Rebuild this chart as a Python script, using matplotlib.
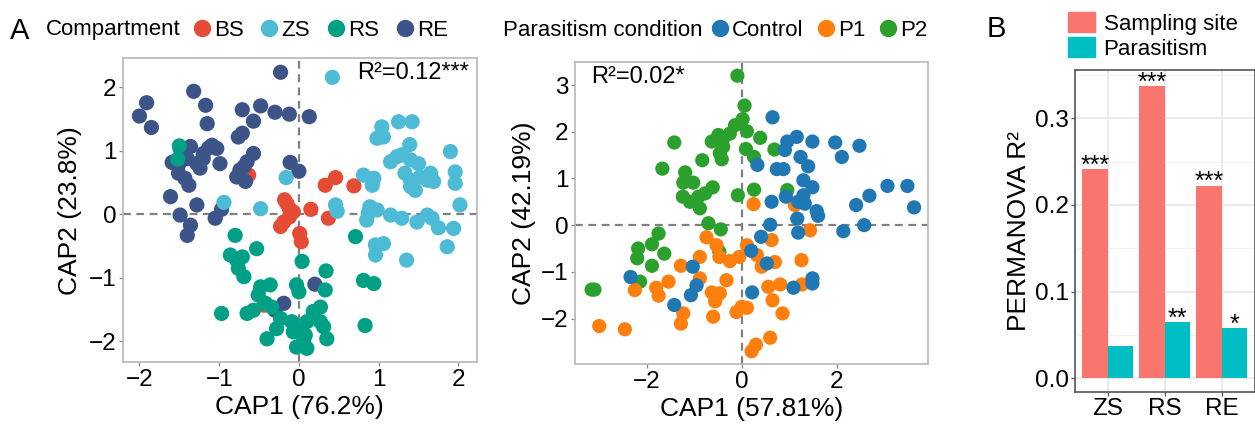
import matplotlib
matplotlib.use("Agg")
import matplotlib.pyplot as plt
from matplotlib.lines import Line2D
import numpy as np

plt.rcParams["font.family"] = ["Liberation Sans", "DejaVu Sans"]

W, H = 1255, 428

# ---- panel A left: CAP by compartment ----
comp_names = ["BS", "ZS", "RS", "RE"]
comp_colors = ["#E64B35", "#4DBBD5", "#00A087", "#3C5488"]

bs_x = [-0.63, 0.33, 0.46, 0.69, -0.18, -0.15, -0.12, -0.07, -0.12, -0.19, -0.23, 0.15, 0.37, 0.01, 0.03, -0.44]
bs_y = [0.62, 0.46, 0.58, 0.45, 0.23, 0.17, 0.09, 0.04, -0.04, -0.12, -0.19, 0.08, -0.06, -0.30, -0.43, -1.43]

zs_x = [0.42, 1.04, 1.06, 1.25, 1.42, 0.98, 1.39, 1.90, 1.15, 1.23, 1.29, 1.40, 1.50, 1.65, 1.33, 1.40,
        1.52, 1.61, 1.69, 1.96, 1.96, 0.81, 0.94, 0.92, 1.40, 1.46, -0.16, -0.94, -0.48, 0.46, 0.48, 0.89,
        0.87, 0.98, 1.15, 1.29, 1.48, 1.61, 1.67, 1.75, 1.94, 2.02, 0.96, 1.06, 0.96, 1.35, 1.86, 0.85]
zs_y = [2.16, 1.38, 1.22, 1.46, 1.46, 1.20, 1.10, 0.99, 0.83, 0.91, 0.94, 0.86, 0.80, 0.65, 0.65, 0.54,
        0.59, 0.54, 0.52, 0.67, 0.49, 0.62, 0.57, 0.46, 0.44, 0.38, 0.58, 0.19, 0.09, 0.15, 0.05, 0.12,
        0.02, 0.07, -0.01, -0.06, -0.12, -0.01, -0.06, -0.21, -0.22, 0.15, -0.48, -0.46, -0.64, -0.72, -0.51, -0.09]

rs_x = [-1.50, -1.52, -0.80, -0.53, -0.86, -0.78, -0.71, -0.76, -0.69, 0.71, 0.04, 0.34, -0.03, 0.00,
        0.33, 0.81, 0.94, -0.48, -0.36, -0.51, -0.42, -0.57, -0.65, -0.97, -0.23, -0.28, -0.40, -0.09,
        -0.07, 0.00, 0.10, 0.18, 0.27, 0.27, 0.31, 0.35, 0.08, 0.06, -0.03, 0.10, 0.83, -0.34]
rs_y = [1.08, 0.87, -0.33, -0.54, -0.64, -0.72, -0.67, -0.85, -0.98, -0.35, -0.74, -0.89, -1.11, -1.22,
        -1.19, -1.04, -1.09, -1.14, -1.11, -1.27, -1.40, -1.51, -1.56, -1.56, -1.64, -1.80, -1.96, -1.69,
        -1.85, -1.82, -1.69, -1.53, -1.46, -1.69, -1.77, -1.96, -1.90, -1.98, -2.09, -2.11, -1.75, -1.46]

re_x = [-0.23, -1.32, -1.91, -2.00, -1.85, -1.17, -1.15, -0.71, -0.48, -0.57, -0.30, -0.12, 0.13, -0.76,
        -0.71, -1.36, -1.49, -1.59, -1.51, -1.40, -1.28, -1.20, -1.13, -1.20, -1.03, -1.09, -0.99, -1.24,
        -1.51, -1.43, -1.38, -1.61, -0.65, -0.57, -0.69, -0.78, -0.67, -0.74, -0.11, 0.00, -1.28, -1.49,
        -1.36, -1.40, -1.05, -0.97, -0.19, -0.30, 0.20]
re_y = [2.24, 1.94, 1.76, 1.55, 1.37, 1.72, 1.43, 1.65, 1.71, 1.47, 1.61, 1.58, 1.54, 1.22,
        1.28, 1.07, 1.04, 0.82, 0.78, 0.88, 0.80, 0.88, 1.05, 0.96, 1.04, 1.09, 0.80, 0.73,
        0.65, 0.57, 0.46, 0.28, 0.83, 0.96, 0.75, 0.59, 0.52, 0.70, 0.82, 0.68, 0.15, -0.01,
        -0.17, -0.33, -0.06, 0.08, -1.40, -1.51, -1.10]

# ---- panel A right: CAP by parasitism ----
para_names = ["Control", "P1", "P2"]
para_colors = ["#1F77B4", "#FF7F0E", "#2CA02C"]

ctrl_x = [0.65, 0.96, 1.16, 1.49, 1.97, 2.48, 2.11, 1.24, 1.40, 0.91, 0.33, 0.74, 0.88, 1.30, 1.49,
          1.30, 1.19, 1.33, 1.17, 1.58, 1.61, 0.93, 0.63, 0.60, 1.19, 0.41, 0.20, 0.53, 2.41, 2.69,
          3.07, 3.49, 3.63, 2.58, 2.14, -1.03, -0.95, -1.07, -1.42, -2.34, 0.22, 1.09, 1.49, 1.49]
ctrl_y = [2.31, 1.79, 1.89, 1.79, 1.77, 1.70, 1.46, 1.46, 1.26, 1.61, 1.29, 1.20, 1.20, 0.96, 0.81,
          0.64, 0.50, 0.46, 0.14, 0.30, 0.20, 0.61, 0.50, 0.01, -0.16, -0.25, -0.55, -0.82, 0.43, 0.63,
          0.84, 0.84, 0.38, 0.00, -0.13, -0.89, -1.29, -1.50, -1.71, -1.11, -1.44, -1.34, -1.14, -1.25]

p1_x = [0.25, 1.12, 1.44, -0.74, -0.53, -0.47, -0.25, -0.05, 0.11, 0.32, 0.63, 0.42, 0.70, 1.26,
        -0.88, -1.28, -1.54, -1.80, -1.75, -2.25, -0.88, -0.63, -0.46, -0.56, -0.32, -1.23, -1.28,
        -0.60, -0.11, 0.00, 0.11, -3.00, -2.46, 0.56, 0.65, 0.81, 0.86, 1.27, 0.60, 0.30, 0.21]
p1_y = [0.45, 0.43, -0.11, -0.26, -0.43, -0.68, -0.77, -0.68, -0.43, -0.64, -0.32, -0.89, -0.79, -0.75,
        -0.68, -0.87, -1.21, -1.34, -1.51, -1.39, -1.14, -1.44, -1.46, -1.63, -1.18, -1.89, -2.11,
        -1.96, -1.86, -1.75, -1.77, -2.16, -2.23, -1.32, -1.61, -1.27, -1.89, -1.27, -2.41, -2.56, -2.70]

p2_x = [-0.09, 0.06, 0.02, -0.14, 0.11, -0.25, -0.49, -0.39, -0.63, 0.39, -1.42, -0.39, -0.46, -0.42,
        0.09, 0.26, 0.69, -0.83, -1.67, -1.19, -1.23, -1.02, -1.24, -1.09, -0.88, -0.77, -0.61, -0.91,
        -0.08, 0.26, 0.96, -0.70, -0.44, -1.75, -1.89, -2.18, -2.20, -1.63, -1.89, -2.14, -3.16, -3.10, -0.47]
p2_y = [3.20, 2.56, 2.27, 2.14, 2.01, 1.96, 1.93, 1.86, 1.79, 1.87, 1.77, 1.68, 1.54, 1.41,
        1.63, 1.46, 1.62, 1.39, 1.21, 1.13, 0.91, 0.91, 0.61, 0.50, 0.36, 0.68, 0.81, 0.61,
        0.64, 0.76, 0.75, 0.04, -0.09, -0.18, -0.41, -0.50, -0.71, -0.61, -0.87, -1.21, -1.38, -1.38, -0.57]

# ---- panel B: PERMANOVA ----
sites = ["ZS", "RS", "RE"]
r2_site = [0.241, 0.337, 0.222]
r2_para = [0.0376, 0.0646, 0.0577]
sig_site = ["***", "***", "***"]
sig_para = ["", "**", "*"]


def frac(l, t, r, b):
    return [l / W, 1 - b / H, (r - l) / W, (b - t) / H]


fig = plt.figure(figsize=(W / 100, H / 100), dpi=100)

ax1 = fig.add_axes(frac(122.7, 58.3, 476.7, 362.3))
ax2 = fig.add_axes(frac(575, 61.7, 928.3, 364.3))
ax3 = fig.add_axes(frac(1075, 70, 1254.5, 391.7))

tick_fs = 17.5
lab_fs = 19

for ax in (ax1, ax2):
    ax.axhline(0, color="#808080", ls=(0, (3.5, 2.5)), lw=1.6, zorder=1)
    ax.axvline(0, color="#808080", ls=(0, (3.5, 2.5)), lw=1.6, zorder=1)
    for s in ax.spines.values():
        s.set_color("#b8b8b8")
        s.set_linewidth(1.2)
    ax.tick_params(labelsize=tick_fs, length=3, width=0.9, color="#888888", pad=1.5)

groups1 = [(bs_x, bs_y), (re_x, re_y), (zs_x, zs_y), (rs_x, rs_y)]
order1 = [0, 3, 1, 2]
for (gx, gy), i in zip(groups1, order1):
    ax1.scatter(gx, gy, s=120, color=comp_colors[i], edgecolors="none", zorder=3)
ax1.set_xlim(-2.21, 2.23)
ax1.set_ylim(-2.33, 2.46)
ax1.set_xticks([-2, -1, 0, 1, 2])
ax1.set_yticks([-2, -1, 0, 1, 2])
ax1.set_xlabel("CAP1 (76.2%)", fontsize=lab_fs, labelpad=3)
ax1.set_ylabel("CAP2 (23.8%)", fontsize=lab_fs, labelpad=5)
ax1.text(0.727, 2.23, "R²=0.12***", fontsize=17, va="center", ha="left", zorder=5)

groups2 = [(p2_x, p2_y), (p1_x, p1_y), (ctrl_x, ctrl_y)]
order2 = [2, 1, 0]
for (gx, gy), i in zip(groups2, order2):
    ax2.scatter(gx, gy, s=105, color=para_colors[i], edgecolors="none", zorder=3)
ax2.set_xlim(-3.51, 3.93)
ax2.set_ylim(-2.98, 3.50)
ax2.set_xticks([-2, 0, 2])
ax2.set_yticks([-2, -1, 0, 1, 2, 3])
ax2.set_xlabel("CAP1 (57.81%)", fontsize=lab_fs, labelpad=3)
ax2.set_ylabel("CAP2 (42.19%)", fontsize=lab_fs, labelpad=4)
ax2.text(-3.16, 3.18, "R²=0.02*", fontsize=17, va="center", ha="left", zorder=5)

# bar panel
xpos = np.arange(len(sites))
bw = 0.45
ax3.set_axisbelow(True)
ax3.set_yticks([0.05, 0.15, 0.25, 0.35], minor=True)
ax3.grid(True, which="major", color="#e6e6e6", lw=1.1)
ax3.grid(True, which="minor", axis="y", color="#f0f0f0", lw=0.7)
ax3.bar(xpos - bw / 2, r2_site, width=bw, color="#F8766D", label="Sampling site")
ax3.bar(xpos + bw / 2, r2_para, width=bw, color="#00BFC4", label="Parasitism")
for xs, vals, sig in ((xpos - bw / 2, r2_site, sig_site), (xpos + bw / 2, r2_para, sig_para)):
    for xx, v, s in zip(xs, vals, sig):
        ax3.annotate(s, (xx, v), xytext=(0, -2.5), textcoords="offset points",
                     ha="center", va="baseline", fontsize=18)
ax3.set_xlim(-0.574, 2.575)
ax3.set_ylim(-0.0155, 0.3557)
ax3.set_xticks(xpos)
ax3.set_xticklabels(sites)
ax3.set_yticks([0.0, 0.1, 0.2, 0.3])
ax3.set_yticklabels(["0.0", "0.1", "0.2", "0.3"])
ax3.tick_params(which="major", labelsize=tick_fs, length=3, width=0.9, color="#555555", pad=1.5)
ax3.tick_params(which="minor", length=0)
for s in ax3.spines.values():
    s.set_color("#555555")
    s.set_linewidth(1.2)
ax3.set_ylabel("PERMANOVA R²", fontsize=lab_fs, labelpad=3)

# legends on top
comp_handles = [Line2D([], [], ls="none", marker="o", markersize=11.5, color=c) for c in comp_colors]
para_handles = [Line2D([], [], ls="none", marker="o", markersize=11.5, color=c) for c in para_colors]
leg_kw = dict(loc="center left", frameon=False, borderpad=0, borderaxespad=0,
              handlelength=0.8, handletextpad=0.15, columnspacing=0.75, fontsize=16)
fig.legend(comp_handles, comp_names, ncol=4, bbox_to_anchor=(193 / W, 1 - 30 / H), **leg_kw)
leg_kw["columnspacing"] = 0.6
fig.legend(para_handles, para_names, ncol=3, bbox_to_anchor=(711 / W, 1 - 30 / H), **leg_kw)
fig.text(46 / W, 1 - 30 / H, "Compartment", fontsize=16, va="center", ha="left")
fig.text(503 / W, 1 - 30 / H, "Parasitism condition", fontsize=16, va="center", ha="left")

bar_handles = [plt.Rectangle((0, 0), 1, 1, color="#F8766D"), plt.Rectangle((0, 0), 1, 1, color="#00BFC4")]
fig.legend(bar_handles, ["Sampling site", "Parasitism"], loc="center left",
           bbox_to_anchor=(1068 / W, 1 - 36 / H), frameon=False, fontsize=16,
           borderpad=0, borderaxespad=0, handlelength=1.2, handleheight=1.0,
           handletextpad=0.4, labelspacing=0.1)

fig.text(10 / W, 1 - 31 / H, "A", fontsize=21, va="center", ha="left")
fig.text(987 / W, 1 - 29 / H, "B", fontsize=21, va="center", ha="left")

fig.savefig("out.png", dpi=100)
